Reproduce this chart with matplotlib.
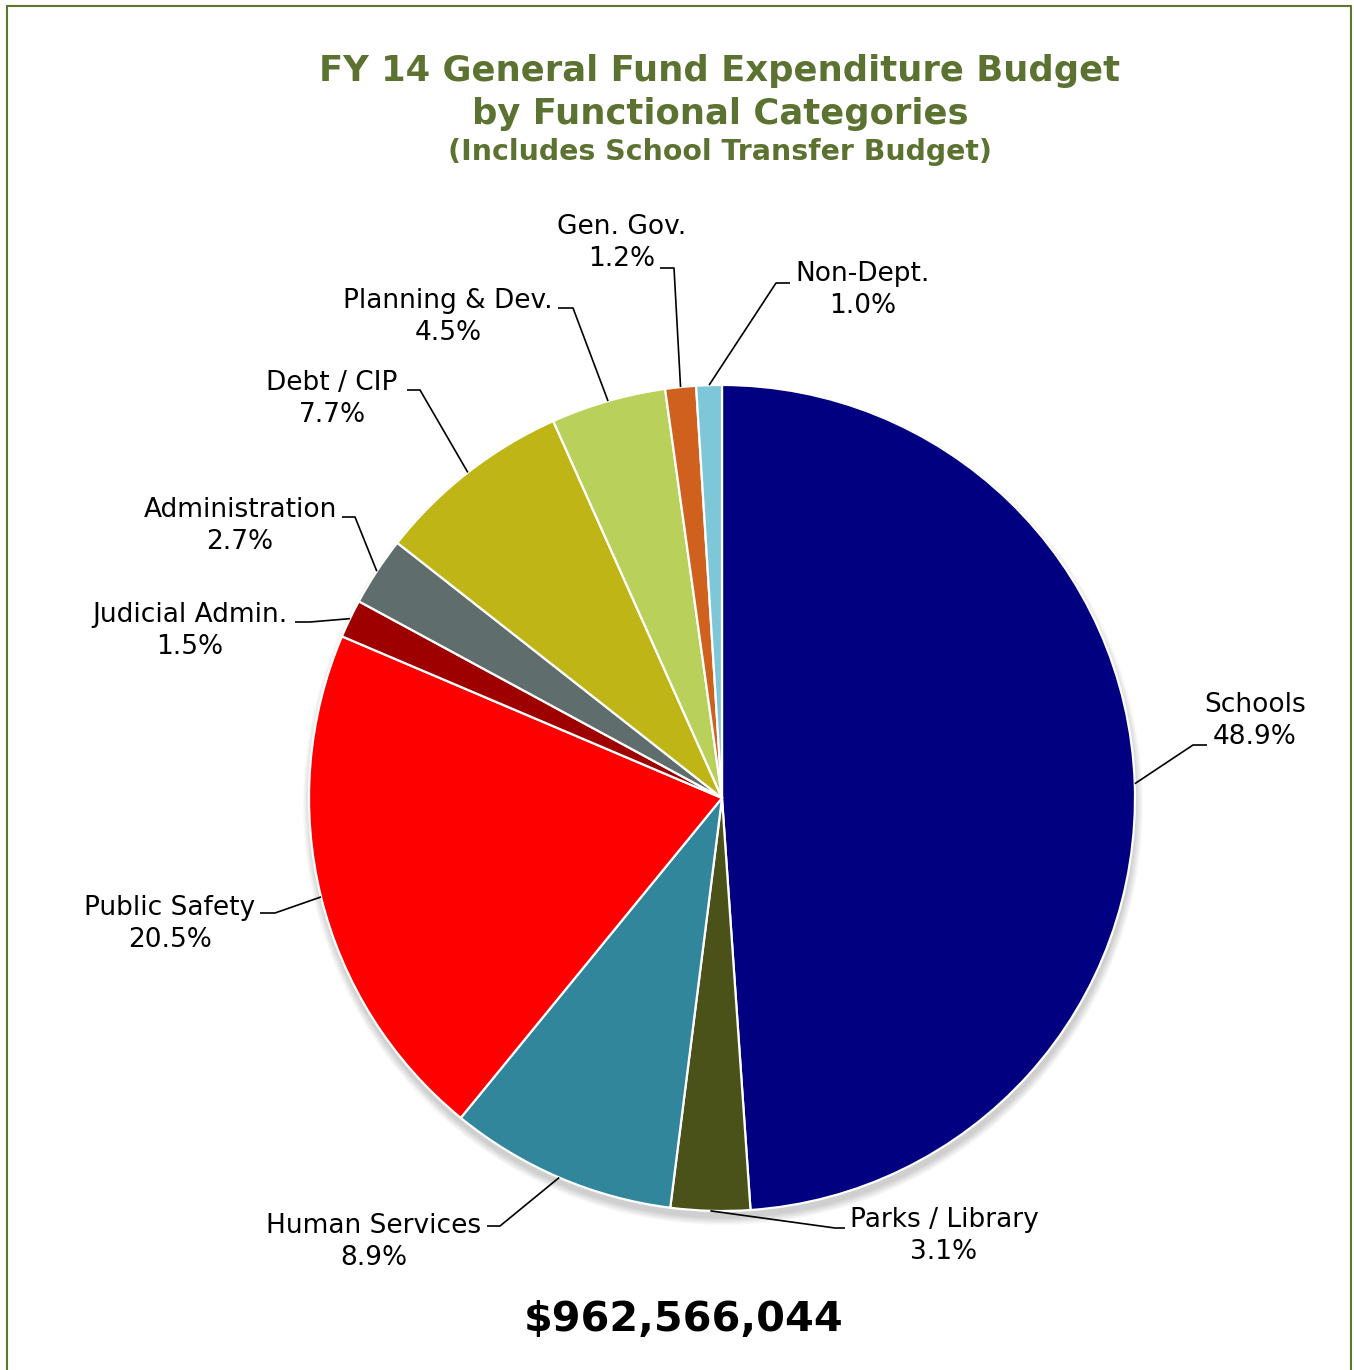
import matplotlib
matplotlib.use("Agg")
import matplotlib.pyplot as plt
import numpy as np
from matplotlib.patches import Rectangle, Circle

categories = ["Schools", "Parks / Library", "Human Services", "Public Safety",
              "Judicial Admin.", "Administration", "Debt / CIP",
              "Planning & Dev.", "Gen. Gov.", "Non-Dept."]
values = [48.9, 3.1, 8.9, 20.5, 1.5, 2.7, 7.7, 4.5, 1.2, 1.0]
colors = ["#000080", "#4a5219", "#31869b", "#ff0000", "#9e0000",
          "#5f6e6d", "#bfb516", "#b9d15b", "#d0601e", "#7ec7d8"]
total_label = "$962,566,044"

# label text center positions (pixels, top-left origin) and elbow points
label_pos = [(1255, 720), (944, 1235), (374, 1241), (170, 923), (190, 630),
             (240, 525), (332, 398), (448, 316), (622, 242), (863, 289)]
elbow = [(1193, 745, 1207), (835, 1228, 845), (500, 1226, 487), (275, 913, 260),
         (310, 622, 295), (355, 517, 342), (420, 390, 407), (573, 308, 558),
         (674, 268, 660), (776, 283, 790)]

W, H = 1354, 1370
fig = plt.figure(figsize=(W / 100, H / 100), dpi=100)
ax = fig.add_axes([0, 0, 1, 1])

def Y(py):
    return H - py

cx, cy, R = 722, 798, 413

# soft shadow
for i in range(8):
    ax.add_patch(Circle((cx + 1, Y(cy + 7)), R + i * 1.0, facecolor="black",
                        alpha=0.022, edgecolor="none", zorder=1))

wedges, _ = ax.pie(values, colors=colors, startangle=90, counterclock=False,
                   center=(cx, Y(cy)), radius=R,
                   wedgeprops=dict(edgecolor="white", linewidth=1.6), frame=True)
for w in wedges:
    w.set_zorder(2)
ax.set_xlim(0, W)
ax.set_ylim(0, H)
ax.set_aspect("equal")
ax.axis("off")

# border
ax.add_patch(Rectangle((7, Y(1380)), 1344, 1374, fill=False,
                       edgecolor="#5f7530", linewidth=1.5, zorder=0))

tf = dict(fontsize=19, family="DejaVu Sans", color="black")
for i, (w, name, v) in enumerate(zip(wedges, categories, values)):
    ang = np.deg2rad((w.theta1 + w.theta2) / 2)
    ex = cx + R * np.cos(ang)
    ey = Y(cy) + R * np.sin(ang)
    bx, by, tx = elbow[i]
    ax.plot([ex, bx, tx], [ey, Y(by), Y(by)], color="black", lw=1.2, zorder=3,
            solid_capstyle="butt")
    lx, ly = label_pos[i]
    ax.text(lx, Y(ly + 1), f"{name}\n{v:.1f}%", ha="center", va="center",
            linespacing=1.32, **tf)

green = "#5c7230"
ax.text(720, Y(71), "FY 14 General Fund Expenditure Budget", ha="center", va="center",
        fontsize=25.5, fontweight="bold", color=green)
ax.text(720, Y(114), "by Functional Categories", ha="center", va="center",
        fontsize=25.5, fontweight="bold", color=green)
ax.text(720, Y(152), "(Includes School Transfer Budget)", ha="center", va="center",
        fontsize=20.4, fontweight="bold", color=green)
ax.text(684, Y(1320), total_label, ha="center", va="center",
        fontsize=29.8, fontweight="bold", color="black")

fig.savefig("out.png", dpi=100)
